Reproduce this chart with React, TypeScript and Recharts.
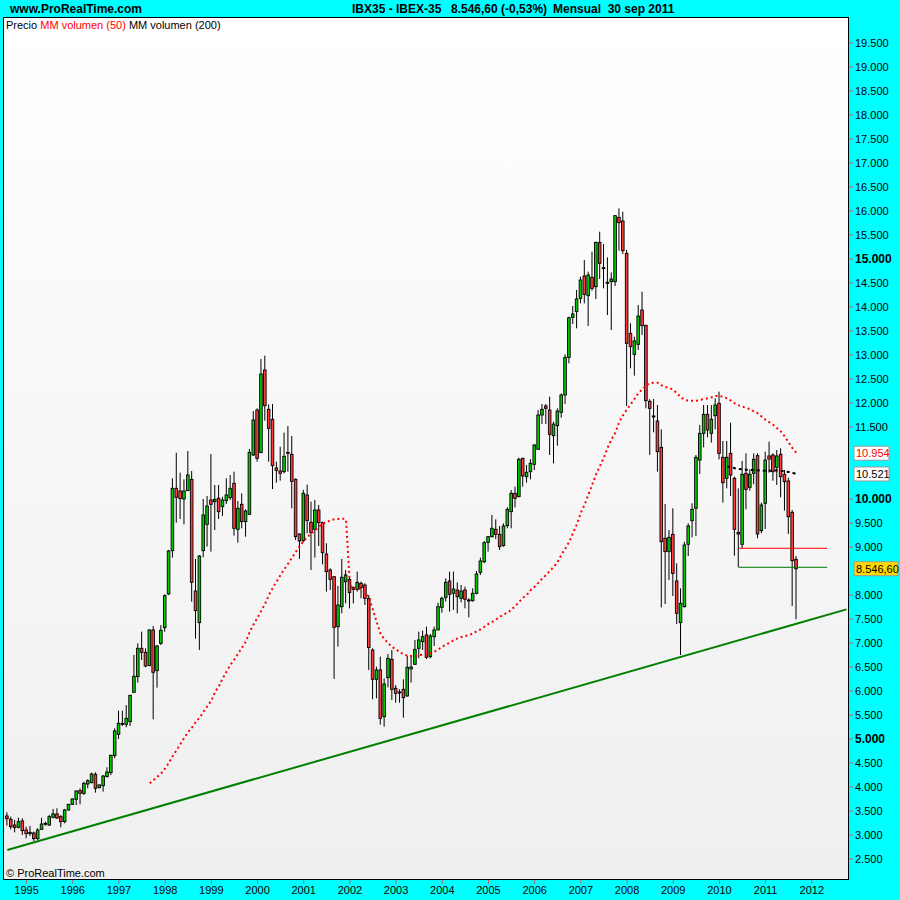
import { ComposedChart, Bar, Line, XAxis, YAxis, CartesianGrid, ReferenceLine } from "recharts";

// monthly candles from Aug 1994 to Sep 2011, plus empty months on the right
const START_YEAR = 1994;
const START_MONTH = 8;
const MONTH_SLOTS = 219;

const OPEN = [
  3396, 3327, 3208, 3160, 3292,
  3104, 3028, 3042, 2924, 3118, 3243, 3208, 3368, 3438, 3382, 3278, 3521,
  3639, 3743, 3924, 3868, 4062, 4090, 4264, 3986, 4028, 4215, 4299, 4653,
  5097, 5326, 5306, 5361, 5972, 6299, 6889, 6806, 6528, 7271, 6424, 6993,
  7319, 8021, 8924, 10222, 10167, 10000, 10174, 10409, 8083, 7424, 8924, 9472,
  9979, 9944, 10014, 9840, 9965, 10028, 10326, 9368, 9889, 9528, 9680, 10917,
  11854, 10965, 12687, 11868, 11660, 10646, 10583, 10569, 10972, 10930, 10410, 9271,
  9132, 10083, 9514, 9368, 9771, 9507, 8854, 8521, 8382, 7340, 7757, 8278,
  8326, 8160, 8118, 8243, 8208, 7931, 6854, 6243, 6438, 5465, 6278, 6660,
  6056, 5980, 6035, 5896, 6460, 6556, 6889, 7028, 7167, 6715, 7132, 7271,
  7743, 7951, 8292, 8035, 8104, 7931, 8104, 7896, 7882, 8035, 8472, 8694,
  9097, 9215, 9368, 9264, 9028, 9444, 9736, 10118, 10049, 10847, 10465, 10569,
  10722, 11035, 11750, 11937, 11854, 11319, 11528, 11806, 12167, 12951, 13785, 13903,
  14180, 14646, 14236, 14618, 14424, 15347, 14820, 14514, 14528, 14528, 15868, 15792,
  15118, 13451, 13014, 13222, 13937, 13618, 12035, 11730, 11625, 11076, 9181, 8903,
  9264, 8292, 7424, 7757, 9056, 9549, 9806, 10812, 11368, 11764, 11368, 11736,
  11993, 10868, 10431, 10951, 10431, 9305, 9056, 10535, 10243, 10535, 10903, 9340,
  9910, 10896, 10917, 10660, 10931, 10514, 10375, 9722, 8743,
];

const HIGH = [
  3472, 3382, 3313, 3360, 3347,
  3174, 3187, 3070, 3139, 3360, 3278, 3417, 3542, 3556, 3417, 3542, 3646,
  3764, 3924, 3972, 4111, 4160, 4299, 4306, 4056, 4250, 4410, 4674, 5222,
  5590, 5590, 5708, 5917, 6750, 6993, 7236, 6889, 7285, 7354, 6958, 7375,
  8014, 8938, 10431, 10965, 10549, 10410, 11000, 10583, 8750, 8833, 10000, 10063,
  10937, 10292, 10292, 10049, 10431, 10500, 10569, 9958, 10118, 9785, 11041, 11833,
  11889, 12916, 12986, 11972, 11979, 10778, 11090, 11382, 11521, 11312, 10430, 9285,
  10190, 10300, 9945, 9979, 9875, 9528, 9076, 8556, 8382, 8188, 8750, 8521,
  8382, 8174, 8486, 8278, 8243, 8000, 6889, 6507, 6715, 6264, 6771, 6854,
  6125, 6035, 6243, 6729, 6715, 7063, 7236, 7257, 7340, 7188, 7340, 7840,
  7965, 8347, 8486, 8486, 8264, 8208, 8174, 7931, 8139, 8500, 8778, 9125,
  9229, 9667, 9576, 9438, 9493, 9826, 10187, 10257, 10861, 10861, 10708, 10833,
  11140, 11854, 11979, 11979, 12132, 11611, 11889, 12201, 13014, 13799, 14021, 14354,
  14632, 14979, 14736, 15153, 15360, 15569, 15312, 15035, 14722, 15917, 16056, 15986,
  15188, 13660, 13382, 14042, 14319, 13630, 12076, 12083, 11958, 11451, 9896, 9354,
  9806, 8660, 8139, 9111, 9493, 9910, 10917, 11542, 11958, 11958, 11958, 12097,
  12236, 11208, 11208, 11590, 10465, 10222, 10792, 10951, 10618, 10951, 10951, 9924,
  10986, 11194, 10951, 11021, 11056, 10604, 10444, 9771, 8812,
];

const LOW = [
  3195, 3117, 3055, 3139, 3000,
  2930, 2980, 2875, 2896, 3104, 3194, 3188, 3347, 3333, 3160, 3243, 3507,
  3625, 3625, 3639, 3833, 3972, 4076, 3882, 3972, 3903, 4201, 4250, 4597,
  5000, 5271, 5243, 5271, 5965, 6174, 6646, 6493, 6521, 5410, 6069, 6958,
  7236, 8000, 8778, 9507, 9583, 9472, 10174, 7861, 7090, 6854, 8785, 9007,
  8903, 9354, 9583, 9646, 9896, 9979, 9236, 9090, 9389, 9215, 9680, 10896,
  10778, 10965, 11632, 10778, 10208, 10340, 10382, 10535, 10569, 9805, 9146, 8750,
  9100, 9285, 8521, 8778, 9021, 8639, 8070, 8104, 6250, 6924, 7618, 7826,
  7722, 7826, 8070, 7931, 7792, 6438, 5826, 5847, 5300, 5257, 6076, 5813,
  5757, 5757, 5445, 5882, 6174, 6542, 6681, 6854, 6667, 6681, 6938, 7271,
  7632, 7861, 7653, 7688, 7618, 7847, 7722, 7535, 7861, 8014, 8417, 8660,
  8903, 9201, 9167, 8938, 9007, 9389, 9389, 9826, 10035, 10257, 10340, 10410,
  10604, 11021, 11562, 11562, 10917, 10743, 11111, 11694, 11979, 12826, 13646, 13556,
  14076, 14076, 13604, 14340, 14167, 14583, 14389, 13833, 13521, 14437, 15174, 15104,
  11937, 12722, 12569, 13104, 13417, 11889, 10917, 11389, 10569, 7743, 7812, 8313,
  7979, 7396, 6750, 7740, 8812, 9201, 9229, 10521, 11076, 11285, 11174, 11451,
  10826, 9924, 10222, 10062, 8819, 8577, 8972, 9785, 10174, 10306, 9181, 9285,
  9375, 10549, 10382, 10292, 10035, 9757, 9271, 7771, 7493,
];

const CLOSE = [
  3340, 3174, 3153, 3278, 3090,
  3028, 3055, 2924, 3104, 3229, 3222, 3382, 3438, 3354, 3278, 3521, 3639,
  3750, 3917, 3868, 4076, 4132, 4271, 3972, 4042, 4229, 4313, 4660, 5167,
  5326, 5306, 5431, 5910, 6306, 6889, 6806, 6521, 7271, 6389, 6938, 7264,
  7986, 8917, 10222, 10035, 10007, 10167, 10500, 8264, 7674, 8812, 9667, 9854,
  9889, 9993, 9736, 9979, 10083, 10222, 9389, 9806, 9528, 9750, 10972, 11646,
  10847, 12604, 11944, 11472, 10694, 10597, 10535, 10889, 10951, 10368, 9215, 9125,
  10118, 9549, 9299, 9771, 9507, 8882, 8486, 8326, 7326, 7792, 8368, 8417,
  8049, 8118, 8264, 8153, 7931, 6903, 6243, 6438, 5431, 6146, 6681, 6035,
  5951, 5965, 5861, 6493, 6500, 6868, 7063, 7132, 6701, 7146, 7271, 7757,
  7931, 8264, 8014, 8125, 7965, 8083, 7910, 7875, 8035, 8438, 8708, 9090,
  9215, 9389, 9264, 9007, 9438, 9785, 10118, 10014, 10826, 10479, 10556, 10743,
  11125, 11750, 11868, 11889, 11347, 11562, 11833, 12167, 12951, 13778, 13854, 14167,
  14562, 14264, 14667, 14389, 15347, 14910, 14806, 14493, 14583, 15903, 15757, 15174,
  13243, 13174, 13292, 13812, 13611, 12049, 11889, 11715, 10986, 9111, 8903, 9201,
  8451, 7618, 7826, 9042, 9438, 9785, 10868, 11368, 11764, 11437, 11660, 11958,
  10951, 10340, 10868, 10500, 9368, 9271, 10514, 10201, 10514, 10826, 9271, 9875,
  10812, 10833, 10569, 10896, 10465, 10361, 9632, 8715, 8547,
];

// red dotted average, first value at slot 37
const MA50_FROM = 37;
const MA50 = [
  4077, 4146, 4215, 4285, 4389, 4507, 4646, 4771, 4896, 5028, 5146, 5243, 5361, 5451, 5569, 5688,
  5799, 5986, 6104, 6271, 6410, 6549, 6660, 6785, 6910, 7035, 7236, 7389, 7528, 7674, 7826, 8007,
  8153, 8285, 8417, 8542, 8660, 8785, 8903, 9021,
  9125, 9215, 9285, 9354, 9424, 9493, 9514, 9563, 9576, 9583, 9597, 9563, 8200, 8139, 8160, 8104,
  8035, 7931, 7688, 7424, 7188, 7077, 6993, 6910, 6875, 6799, 6771, 6729, 6729, 6729, 6750, 6757,
  6764, 6785, 6820, 6868, 6924, 6972, 7007, 7063, 7097, 7125, 7146, 7167, 7201, 7250,
  7285, 7340, 7396, 7438, 7493, 7549, 7597, 7632, 7701, 7771, 7861, 7944, 8007, 8104, 8174, 8257,
  8347, 8417, 8507, 8590, 8694, 8847, 8972, 9111, 9299, 9479, 9715, 9889, 10104, 10313, 10521, 10694,
  10868, 11076, 11243, 11389, 11611,
  11750, 11868, 11979, 12097, 12215, 12285, 12375, 12410, 12424, 12424, 12368, 12333, 12313, 12271,
  12201, 12118, 12062, 12049, 12049, 12049, 12062, 12083,
  12097, 12118, 12146, 12146, 12132, 12097, 12049, 11993, 11951, 11924, 11896, 11868, 11819, 11785,
  11715, 11646, 11597, 11542, 11472, 11403, 11298, 11174, 11056, 10954,
];

// black dashed average, first value at slot 187
const MA200_FROM = 187;
const MA200 = [
  10680, 10660, 10640, 10625, 10618, 10611, 10604, 10604, 10597, 10590,
  10590, 10590, 10590, 10597, 10590, 10576, 10562, 10545, 10521,
];

const Y_TICKS = [
  2500, 3000, 3500, 4000, 4500, 5000, 5500, 6000, 6500, 7000, 7500, 8000, 9000, 9500, 10000,
  11500, 12000, 12500, 13000, 13500, 14000, 14500, 15000, 15500, 16000, 16500, 17000, 17500,
  18000, 18500, 19000, 19500,
];

const TREND_START = 2688;
const TREND_END = 7700;
const LEVEL_HIGH = 8973;
const LEVEL_LOW = 8577;
const LEVEL_FROM = 190;
const LEVEL_TO = 213;
const LAST_PRICE = 8546.6;

const FONT = "Arial, 'Liberation Sans', sans-serif";
const GREEN = "#00CC00";
const RED = "#FF3B3B";

const KEYS = Array.from({ length: MONTH_SLOTS }, (_, i) => {
  const t = START_MONTH - 1 + i;
  const y = START_YEAR + Math.floor(t / 12);
  const m = (t % 12) + 1;
  return `${y}-${String(m).padStart(2, "0")}`;
});

const data = KEYS.map((key, i) => ({
  key,
  open: OPEN[i] ?? null,
  high: HIGH[i] ?? null,
  low: LOW[i] ?? null,
  close: CLOSE[i] ?? null,
  ma50: i >= MA50_FROM ? MA50[i - MA50_FROM] ?? null : null,
  ma200: i >= MA200_FROM ? MA200[i - MA200_FROM] ?? null : null,
}));

const fmt = (v: number) => String(v).replace(/\B(?=(\d{3})+(?!\d))/g, ".");

function Candle(props: any) {
  const { x, y, width, height, payload } = props;
  if (!payload || payload.open == null || !isFinite(y) || !isFinite(height)) return <g />;
  const top = Math.min(y, y + height);
  const bot = Math.max(y, y + height);
  const span = payload.high - payload.low || 1;
  const py = (v: number) => top + ((payload.high - v) / span) * (bot - top);
  const cx = x + width / 2;
  const yo = py(payload.open);
  const yc = py(payload.close);
  const up = payload.close >= payload.open;
  const bt = Math.min(yo, yc);
  const bh = Math.max(Math.abs(yo - yc), 1);
  return (
    <g>
      <line x1={cx} x2={cx} y1={top} y2={bot} stroke="#000" strokeWidth={1} />
      <rect x={cx - 1.3} y={bt} width={2.6} height={bh} fill={up ? GREEN : RED} stroke="#000" strokeWidth={0.9} />
    </g>
  );
}

function YTick(props: any) {
  const { x, y, payload } = props;
  const bold = payload.value % 5000 === 0;
  return (
    <text x={x} y={y} dy={4} textAnchor="start" fontFamily={FONT} fontSize={bold ? 12 : 11}
      fontWeight={bold ? "bold" : "normal"} fill="#000">
      {fmt(payload.value)}
    </text>
  );
}

function XTick(props: any) {
  const { x, y, payload } = props;
  if (!String(payload.value).endsWith("-01")) return <g />;
  return (
    <g>
      <line x1={x} x2={x} y1={y - 6} y2={y - 2} stroke="#C06060" />
      <text x={x} y={y} dy="0.71em" textAnchor="middle" fontFamily={FONT} fontSize={11} fill="#000">
        {String(payload.value).slice(0, 4)}
      </text>
    </g>
  );
}

function PriceTag(props: any) {
  const { viewBox, text, color, bg, w } = props;
  if (!viewBox) return null;
  const x = viewBox.x + viewBox.width + 5;
  const y = viewBox.y;
  return (
    <g>
      <rect x={x} y={y - 7} width={w} height={14} fill={bg} stroke="#999" />
      <text x={x + 2} y={y + 4} fontFamily={FONT} fontSize={11} fill={color}>{text}</text>
    </g>
  );
}

export default function App() {
  return (
    <div style={{ position: "absolute", left: 0, top: 0, width: 900, height: 900, background: "#00FFFF", fontFamily: FONT }}>
      <ComposedChart width={900} height={900} data={data} margin={{ top: 17, right: 0, left: 3, bottom: 0 }}>
        <defs>
          <linearGradient id="plotBg" x1="0" y1="0" x2="0" y2="1">
            <stop offset="0" stopColor="#ffffff" />
            <stop offset="1" stopColor="#efefef" />
          </linearGradient>
        </defs>
        <CartesianGrid horizontal={false} vertical={false} fill="url(#plotBg)" fillOpacity={1} stroke="none" />
        <XAxis dataKey="key" type="category" interval={0} height={20} axisLine={false} tickLine={false}
          tickSize={4} tickMargin={2} padding={{ left: 2.4, right: 0.6 }} tick={<XTick />} allowDuplicatedCategory={false} />
        <YAxis orientation="right" width={51} type="number" domain={[2062, 20042]} allowDataOverflow
          ticks={Y_TICKS} interval={0} axisLine={false} tickSize={4} tickMargin={2}
          tickLine={{ stroke: "#C06060" }} tick={<YTick />} />
        <ReferenceLine segment={[{ x: KEYS[0], y: TREND_START }, { x: KEYS[MONTH_SLOTS - 1], y: TREND_END }]}
          stroke="#008000" strokeWidth={2} ifOverflow="visible" />
        <ReferenceLine segment={[{ x: KEYS[LEVEL_FROM], y: LEVEL_HIGH }, { x: KEYS[LEVEL_TO], y: LEVEL_HIGH }]}
          stroke="#FF0000" strokeWidth={1} />
        <ReferenceLine segment={[{ x: KEYS[LEVEL_FROM], y: LEVEL_LOW }, { x: KEYS[LEVEL_TO], y: LEVEL_LOW }]}
          stroke="#007700" strokeWidth={1} />
        <Bar dataKey={(d: any) => (d.high == null ? null : [d.low, d.high])} barSize={3}
          shape={<Candle />} isAnimationActive={false} />
        <Line dataKey="ma50" stroke="#FF0000" strokeWidth={2} strokeDasharray="2 3" dot={false}
          activeDot={false} isAnimationActive={false} />
        <Line dataKey="ma200" stroke="#000000" strokeWidth={2} strokeDasharray="3 3" dot={false}
          activeDot={false} isAnimationActive={false} />
        <ReferenceLine y={MA50[MA50.length - 1]} stroke="none"
          label={<PriceTag text={fmt(MA50[MA50.length - 1])} color="#FF0000" bg="#FFFFFF" w={35} />} />
        <ReferenceLine y={MA200[MA200.length - 1]} stroke="none"
          label={<PriceTag text={fmt(MA200[MA200.length - 1])} color="#000000" bg="#FFFFFF" w={35} />} />
        <ReferenceLine y={LAST_PRICE} stroke="none"
          label={<PriceTag text="8.546,60" color="#000000" bg="#FFD700" w={44} />} />
      </ComposedChart>

      <div style={{ position: "absolute", left: 3, top: 17, width: 846, height: 863, border: "1px solid #000", boxSizing: "border-box", pointerEvents: "none" }} />

      <div style={{ position: "absolute", left: 10, top: 2, fontSize: 12, fontWeight: "bold", lineHeight: "14px", color: "#000" }}>
        www.ProRealTime.com
      </div>
      <div style={{ position: "absolute", left: 352, top: 2, fontSize: 12, fontWeight: "bold", lineHeight: "14px", color: "#000" }}>
        IBX35 - IBEX-35
      </div>
      <div style={{ position: "absolute", left: 451, top: 2, fontSize: 12, fontWeight: "bold", lineHeight: "14px", color: "#000" }}>
        8.546,60 (-0,53%)
      </div>
      <div style={{ position: "absolute", left: 553, top: 2, fontSize: 12, fontWeight: "bold", lineHeight: "14px", color: "#000", whiteSpace: "pre" }}>
        Mensual  30 sep 2011
      </div>

      <div style={{ position: "absolute", left: 6, top: 19, fontSize: 11, lineHeight: "13px", color: "#000", whiteSpace: "pre" }}>
        Precio <span style={{ color: "#FF0000" }}>MM volumen (50)</span> MM volumen (200)
      </div>
      <div style={{ position: "absolute", left: 6, top: 867, fontSize: 11, lineHeight: "13px", color: "#000" }}>
        © ProRealTime.com
      </div>
    </div>
  );
}
